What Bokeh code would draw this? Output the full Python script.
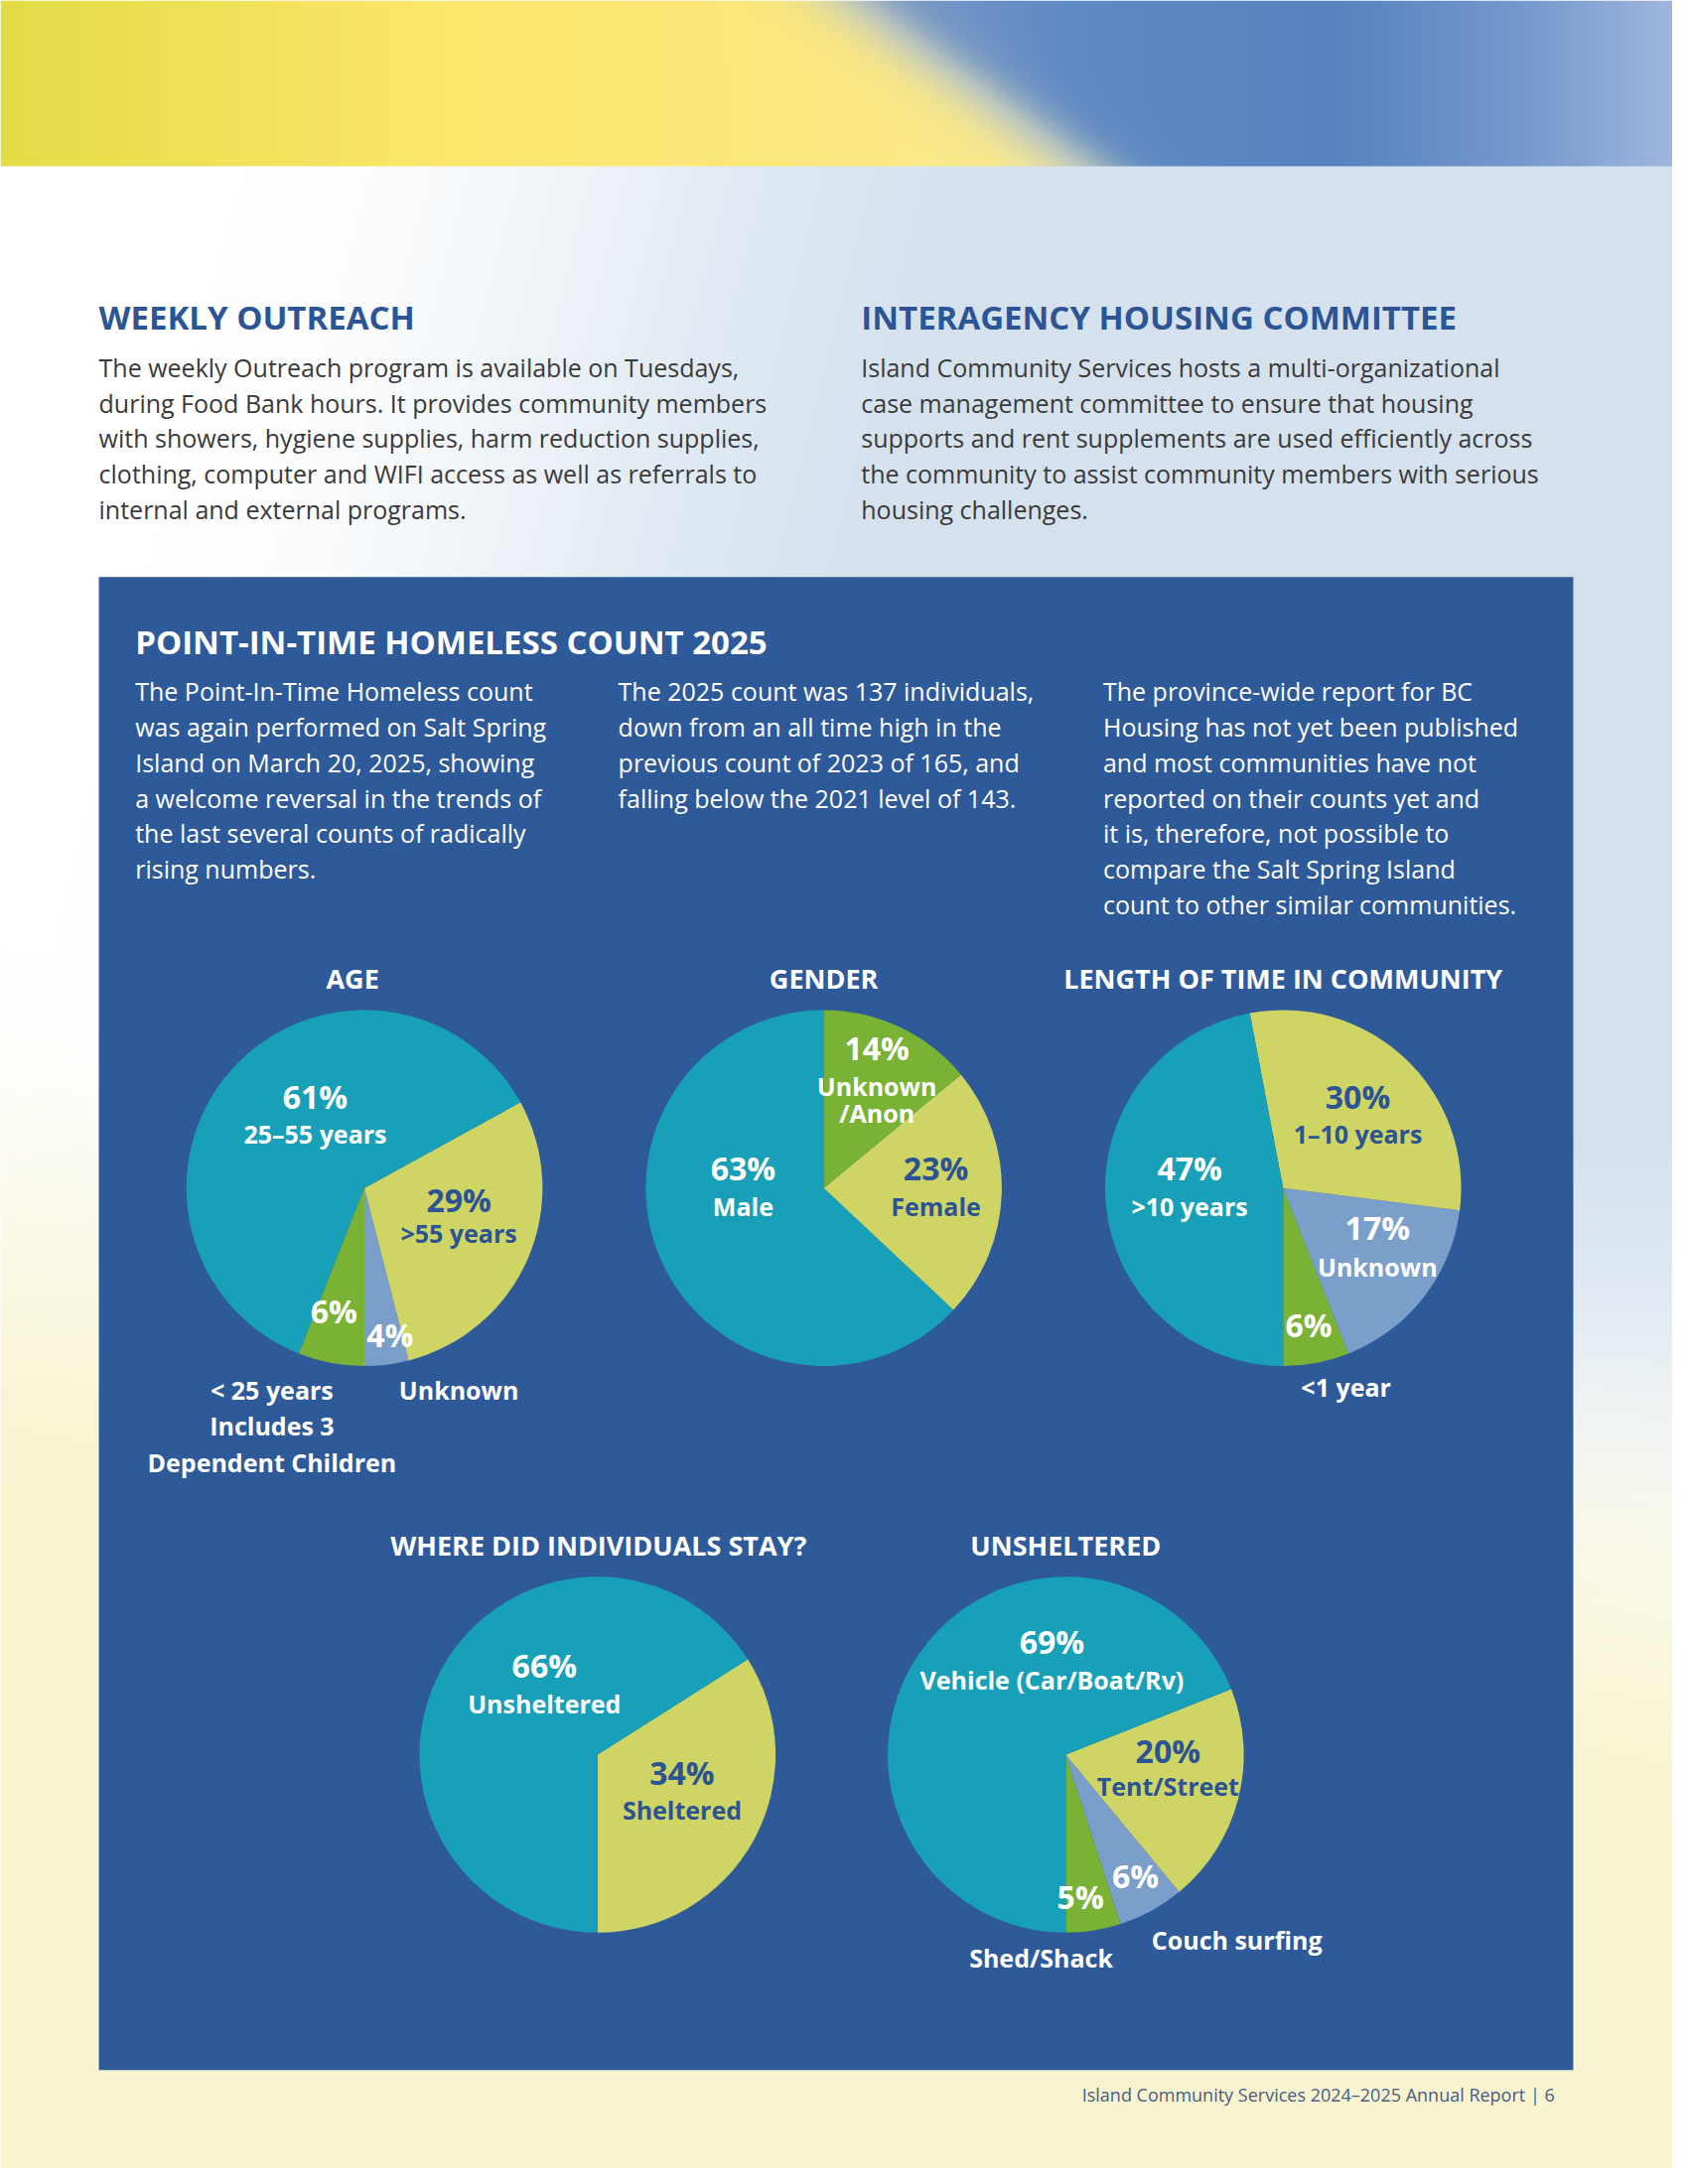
import numpy as np
from bokeh.plotting import figure
from bokeh.models import Range1d
from bokeh.core.properties import value
from bokeh.embed import file_html
from bokeh.resources import INLINE

# ---------------- data ----------------
age_names = ["Unknown", ">55 years", "25\u201355 years", "< 25 years"]
age_values = [4, 29, 61, 6]
age_note = ["Includes 3", "Dependent Children"]

gender_names = ["Male", "Female", "Unknown\n/Anon"]
gender_values = [63, 23, 14]

length_names = ["<1 year", "Unknown", "1\u201310 years", ">10 years"]
length_values = [6, 17, 30, 47]

where_names = ["Sheltered", "Unsheltered"]
where_values = [34, 66]

unsh_names = ["Shed/Shack", "Couch surfing", "Tent/Street", "Vehicle (Car/Boat/Rv)"]
unsh_values = [5, 6, 20, 69]

chart_titles = ["AGE", "GENDER", "LENGTH OF TIME IN COMMUNITY",
                "WHERE DID INDIVIDUALS STAY?", "UNSHELTERED"]

# ---------------- styles ----------------
TEAL = "#17A0B7"
YEL = "#CFD564"
GRN = "#7AB236"
LBL = "#7B9FCB"
BOX = "#2E5A99"
DARK = "#2C5393"
WHITE = "#FFFFFF"
HEAD = "#2D5596"
BODY = "#3A3A3A"
FONT = "Open Sans"

W, H = 1700, 2200

p = figure(width=1684, height=2184, x_range=Range1d(0, W), y_range=Range1d(0, H),
           output_backend="svg", toolbar_location=None, min_border=0)
p.axis.visible = False
p.grid.visible = False
p.outline_line_color = None
p.background_fill_color = "white"
p.border_fill_color = "white"

# ---------------- background (decorative gradient) ----------------
s = 4
hh, ww = H // s, W // s
py = (np.arange(hh) + 0.5) * s
px = (np.arange(ww) + 0.5) * s
X, Yp = np.meshgrid(px, py)

def interp_cols(xv, stops, cols):
    cols = np.array(cols, dtype=float)
    return np.stack([np.interp(xv, stops, cols[:, k]) for k in range(3)], axis=-1)

def smooth(a, b, v):
    t = np.clip((v - a) / (b - a), 0, 1)
    return t * t * (3 - 2 * t)

# lower page
img = np.full((hh, ww, 3), 255.0)
sb = smooth(250, 1050, X + 0.25 * (Yp - 170)) * (1 - smooth(1100, 1700, Yp))
LB = np.array([213, 226, 238.0])
PY = np.array([248, 244, 208.0])
img = img * (1 - sb[..., None]) + LB * sb[..., None]
sy = smooth(1300, 1900, Yp + 0.2 * (1700 - X))
img = img * (1 - sy[..., None]) + PY * sy[..., None]

# banner
bmask = Yp < 170
bnd = 860 + Yp / 170 * 240
d = X - bnd
Ycol = interp_cols(X, [0, 450, 800, 1100], [(227, 220, 70), (252, 231, 108), (252, 232, 125), (250, 235, 150)])
Bcol = interp_cols(X, [850, 1100, 1350, 1550, 1700],
                   [(125, 155, 200), (95, 138, 196), (86, 131, 191), (118, 153, 205), (160, 182, 222)])
t = 1 / (1 + np.exp(-d / 24))
ban = Ycol * (1 - t[..., None]) + Bcol * t[..., None]
wv = 0.22 * np.exp(-(d / 45) ** 2)
ban = ban * (1 - wv[..., None]) + 240 * wv[..., None]
img[bmask] = ban[bmask]

rgba = np.zeros((hh, ww, 4), dtype=np.uint8)
rgba[..., :3] = np.clip(img, 0, 255).astype(np.uint8)
rgba[..., 3] = 255
rgba = rgba[::-1].copy()
p.image_rgba(image=[rgba.view(np.uint32).reshape(hh, ww)], x=0, y=0, dw=W, dh=H)

# ---------------- helpers ----------------
def txt(x, y, sstr, size, color, bold=False, align="left"):
    p.text(x=[x], y=[H - y], text=[sstr], text_font=value(FONT),
           text_font_size=f"{size}px", text_font_style="bold" if bold else "normal",
           text_color=color, text_align=align, text_baseline="middle")

def lines(x, y0, ls, size, color, step=36, bold=False, align="left"):
    for i, l in enumerate(ls):
        txt(x, y0 + i * step, l, size, color, bold, align)

# ---------------- page texts ----------------
txt(100, 321, "WEEKLY OUTREACH", 33, HEAD, bold=True)
txt(875, 321, "INTERAGENCY HOUSING COMMITTEE", 33, HEAD, bold=True)
lines(100, 372, [
    "The weekly Outreach program is available on Tuesdays,",
    "during Food Bank hours. It provides community members",
    "with showers, hygiene supplies, harm reduction supplies,",
    "clothing, computer and WIFI access as well as referrals to",
    "internal and external programs."], 25, BODY)
lines(875, 372, [
    "Island Community Services hosts a multi-organizational",
    "case management committee to ensure that housing",
    "supports and rent supplements are used efficiently across",
    "the community to assist community members with serious",
    "housing challenges."], 25, BODY)

# blue box
p.quad(left=100, right=1599, bottom=H - 2100, top=H - 585, fill_color=BOX, line_color=None)

txt(137, 651, "POINT-IN-TIME HOMELESS COUNT 2025", 33, WHITE, bold=True)
lines(137, 701, [
    "The Point-In-Time Homeless count",
    "was again performed on Salt Spring",
    "Island on March 20, 2025, showing",
    "a welcome reversal in the trends of",
    "the last several counts of radically",
    "rising numbers."], 25, WHITE)
lines(628, 701, [
    "The 2025 count was 137 individuals,",
    "down from an all time high in the",
    "previous count of 2023 of 165, and",
    "falling below the 2021 level of 143."], 25, WHITE)
lines(1121, 701, [
    "The province-wide report for BC",
    "Housing has not yet been published",
    "and most communities have not",
    "reported on their counts yet and",
    "it is, therefore, not possible to",
    "compare the Salt Spring Island",
    "count to other similar communities."], 25, WHITE)

txt(1599, 2125, "Island Community Services 2024\u20132025 Annual Report   |   6", 18, "#4B5B82", align="right")

# ---------------- pies ----------------
R = 181
charts = [
    dict(title=chart_titles[0], c=(370, 1205), tpos=(358, 992), names=age_names, vals=age_values,
         start=-90, cols=[LBL, YEL, TEAL, GRN],
         pct=[(396, 1354, WHITE), (466, 1217, DARK), (320, 1112, WHITE), (339, 1330, WHITE)],
         lab=[(466, 1410, WHITE), (466, 1251, DARK), (320, 1150, WHITE), (276, 1410, WHITE)],
         extra=[(276, 1446, age_note[0]), (276, 1483, age_note[1])]),
    dict(title=chart_titles[1], c=(837, 1205), tpos=(837, 992), names=gender_names, vals=gender_values,
         start=90, cols=[TEAL, YEL, GRN],
         pct=[(755, 1185, WHITE), (951, 1185, DARK), (891, 1063, WHITE)],
         lab=[(755, 1223, WHITE), (951, 1223, DARK), (891, 1102, WHITE)], extra=[]),
    dict(title=chart_titles[2], c=(1304, 1205), tpos=(1304, 992), names=length_names, vals=length_values,
         start=-90, cols=[GRN, LBL, YEL, TEAL],
         pct=[(1330, 1344, WHITE), (1400, 1245, WHITE), (1380, 1112, DARK), (1209, 1185, WHITE)],
         lab=[(1368, 1407, WHITE), (1400, 1285, WHITE), (1380, 1150, DARK), (1209, 1223, WHITE)], extra=[]),
    dict(title=chart_titles[3], c=(607, 1780), tpos=(608, 1567), names=where_names, vals=where_values,
         start=-90, cols=[YEL, TEAL],
         pct=[(693, 1798, DARK), (553, 1689, WHITE)],
         lab=[(693, 1836, DARK), (553, 1728, WHITE)], extra=[]),
    dict(title=chart_titles[4], c=(1083, 1780), tpos=(1083, 1567), names=unsh_names, vals=unsh_values,
         start=-90, cols=[GRN, LBL, YEL, TEAL],
         pct=[(1098, 1924, WHITE), (1154, 1903, WHITE), (1187, 1776, DARK), (1069, 1665, WHITE)],
         lab=[(1058, 1986, WHITE), (1257, 1968, WHITE), (1187, 1812, DARK), (1069, 1704, WHITE)], extra=[]),
]

for ch in charts:
    vals = np.array(ch["vals"], dtype=float)
    fr = vals / vals.sum()
    cum = np.concatenate([[0], np.cumsum(fr)])
    st = np.radians(ch["start"]) + 2 * np.pi * cum[:-1]
    en = np.radians(ch["start"]) + 2 * np.pi * cum[1:]
    cx, cy = ch["c"]
    p.wedge(x=[cx] * len(vals), y=[H - cy] * len(vals), radius=R, start_angle=list(st), end_angle=list(en),
            fill_color=ch["cols"], line_color=None)
    txt(ch["tpos"][0], ch["tpos"][1], ch["title"], 27, WHITE, bold=True, align="center")
    for v, (x, y, col) in zip(ch["vals"], ch["pct"]):
        txt(x, y, f"{v}%", 32, col, bold=True, align="center")
    for nm, (x, y, col) in zip(ch["names"], ch["lab"]):
        for k, part in enumerate(nm.split("\n")):
            txt(x, y + k * 27, part, 25, col, bold=True, align="center")
    for (x, y, e) in ch["extra"]:
        txt(x, y, e, 25, WHITE, bold=True, align="center")

open("out.html", "w").write(file_html(p, INLINE))
